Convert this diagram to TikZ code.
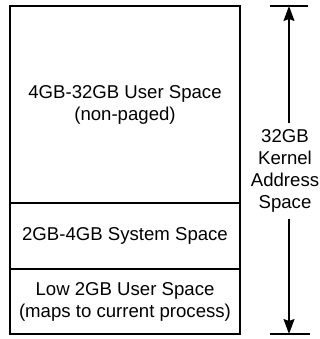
\documentclass[tikz,border=0pt]{standalone}
\usepackage{fontspec}
\setmainfont{Liberation Sans}
\usetikzlibrary{positioning,arrows.meta}

\begin{document}
\begin{tikzpicture}[x=1pt,y=1pt,
  region/.style={draw,line width=1.7pt,outer sep=0pt,inner sep=0pt,minimum width=230pt,align=center,font=\fontsize{18.6}{22}\selectfont},
  span/.style={line width=1.5pt,-{Stealth[length=15pt,width=11pt,inset=2pt]}},
  bar/.style={line width=1.7pt}]
  \useasboundingbox (0,0) rectangle (320,339);
  \node[region,minimum height=197pt,anchor=north west](user32) at (10,333) {4GB-32GB User Space\\(non-paged)};
  \node[region,minimum height=66pt,below=0pt of user32](system) {2GB-4GB System Space};
  \node[region,minimum height=65pt,below=0pt of system](low2) {Low 2GB User Space\\(maps to current process)};

  \node[align=center,inner sep=6pt,font=\fontsize{18.6}{22}\selectfont](kernel) at (285,168) {32GB\\Kernel\\Address\\Space};

  \coordinate (topL) at (270,333);
  \coordinate (topR) at (308,333);
  \coordinate (botL) at (270,5);
  \coordinate (botR) at (310,5);
  \coordinate (top) at (289,333);
  \coordinate (bot) at (289,5);
  \draw[bar] (topL) -- (topR);
  \draw[bar] (botL) -- (botR);
  \draw[span] (kernel.north -| top) -- (top);
  \draw[span] (kernel.south -| bot) -- (bot);
\end{tikzpicture}
\end{document}
